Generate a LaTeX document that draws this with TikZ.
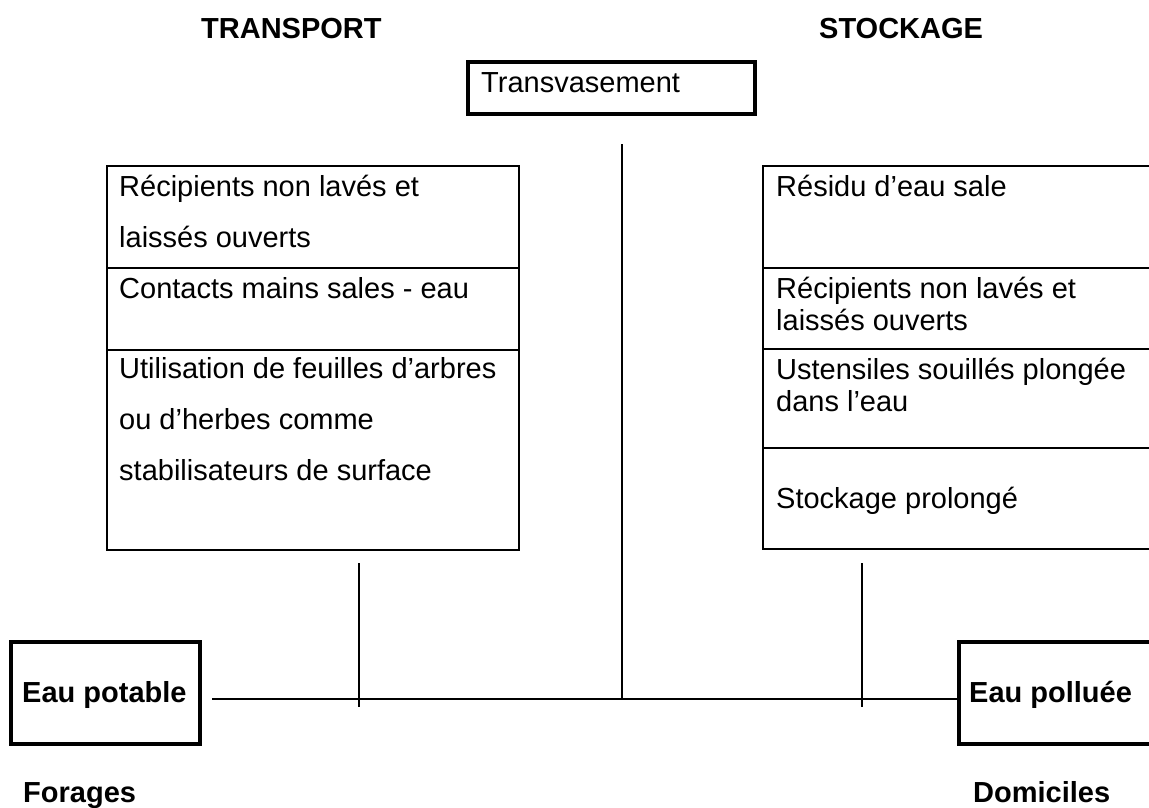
\documentclass[tikz,border=0pt]{standalone}
\usepackage{fontspec}
\setmainfont{Liberation Sans}
\begin{document}
\begin{tikzpicture}[x=1pt,y=-1pt,
  cell/.style={draw, line width=2.8pt, rectangle, inner sep=0pt, outer sep=0pt, anchor=north west},
  endbox/.style={cell, line width=3.2pt},
  txt/.style={anchor=base west, inner sep=0pt, font=\fontsize{29}{33}\selectfont},
  head/.style={txt, font=\fontsize{29}{33}\selectfont\bfseries},
  wire/.style={line width=1.8pt}]
\useasboundingbox (0,0) rectangle (1149,807);

% column headings
\node[head] (transport) at (201,38) {TRANSPORT};
\node[head] (stockage) at (819,38) {STOCKAGE};

% transfer box
\node[endbox, minimum width=287pt, minimum height=52pt] (transv) at (468,62) {};
\node[txt] (transvtxt) at (481,92) {Transvasement};

% transport risks
\node[cell, minimum width=412pt, minimum height=102pt] (l1) at (107,166) {};
\node[cell, minimum width=412pt, minimum height=82pt] (l2) at (107,268) {};
\node[cell, minimum width=412pt, minimum height=200pt] (l3) at (107,350) {};
\node[txt] (l1a) at (119,196) {Récipients non lavés et};
\node[txt] (l1b) at (119,247) {laissés ouverts};
\node[txt] (l2a) at (119,298) {Contacts mains sales - eau};
\node[txt] (l3a) at (119,378) {Utilisation de feuilles d’arbres};
\node[txt] (l3b) at (119,429) {ou d’herbes comme};
\node[txt] (l3c) at (119,480) {stabilisateurs de surface};

% storage risks
\node[cell, minimum width=390pt, minimum height=102pt] (r1) at (763,166) {};
\node[cell, minimum width=390pt, minimum height=81pt] (r2) at (763,268) {};
\node[cell, minimum width=390pt, minimum height=99pt] (r3) at (763,349) {};
\node[cell, minimum width=390pt, minimum height=101pt] (r4) at (763,448) {};
\node[txt] (r1a) at (776,196) {Résidu d’eau sale};
\node[txt] (r2a) at (776,298) {Récipients non lavés et};
\node[txt] (r2b) at (776,330) {laissés ouverts};
\node[txt] (r3a) at (776,379) {Ustensiles souillés plongée};
\node[txt] (r3b) at (776,411) {dans l’eau};
\node[txt] (r4a) at (776,508) {Stockage prolongé};

% end points
\node[endbox, minimum width=189pt, minimum height=102pt] (potable) at (11,642) {};
\node[head] (potabletxt) at (22,702) {Eau potable};
\node[endbox, minimum width=194pt, minimum height=102pt] (polluee) at (959,642) {};
\node[head] (polluetxt) at (969,702) {Eau polluée};
\node[head] (forages) at (23,802) {Forages};
\node[head] (domiciles) at (973,802) {Domiciles};

% connectors
\coordinate (hl) at (212,699);
\coordinate (ctop) at (622,144);
\coordinate (lt) at (359,563);
\coordinate (lb) at (359,707);
\coordinate (rt) at (862,563);
\coordinate (rb) at (862,707);
\draw[wire] (hl) -- (hl -| polluee.west);
\draw[wire] (ctop) -- (ctop |- hl);
\draw[wire] (lt) -- (lb);
\draw[wire] (rt) -- (rb);
\end{tikzpicture}
\end{document}
